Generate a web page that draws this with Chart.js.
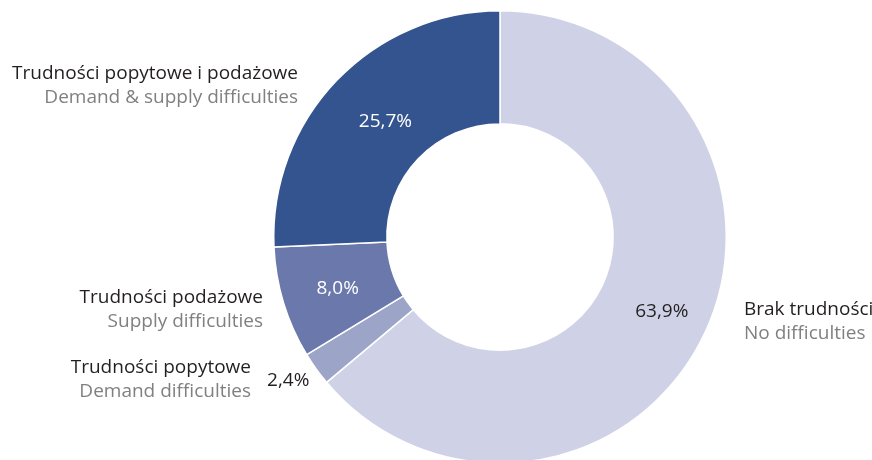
<!DOCTYPE html>
<html>
<head>
<meta charset="utf-8">
<script src="https://cdn.jsdelivr.net/npm/chart.js@4"></script>
<style>
  html, body { margin: 0; padding: 0; background: #fff; overflow: hidden; }
  #wrap { width: 872px; height: 470px; position: relative; }
</style>
</head>
<body>
<div id="wrap"><canvas id="chart"></canvas></div>
<script>
const labelsPl = ["Brak trudności", "Trudności popytowe", "Trudności podażowe", "Trudności popytowe i podażowe"];
const labelsEn = ["No difficulties", "Demand difficulties", "Supply difficulties", "Demand & supply difficulties"];
const values = [63.9, 2.4, 8.0, 25.7];
const colors = ["#cfd2e6", "#9ca5c8", "#6b78ac", "#34548f"];

const FONT = '"Open Sans", sans-serif';

const fmt = v => v.toFixed(1).replace(".", ",") + "%";

const labelPlugin = {
  id: "sliceLabels",
  afterDatasetsDraw(chart) {
    const ctx = chart.ctx;
    const arcs = chart.getDatasetMeta(0).data;
    ctx.save();
    ctx.font = "19px " + FONT;
    ctx.textBaseline = "middle";
    ctx.textAlign = "center";

    // percentage labels
    const pct = [
      { r: 0.76, color: "#231f20", dx: 6, dy: 2 },
      { r: 1.13, color: "#231f20", dx: -4, dy: -5 },
      { r: 0.75, color: "#ffffff", dx: 0, dy: 2 },
      { r: 0.75, color: "#ffffff", dx: 8, dy: 2 }
    ];
    arcs.forEach((arc, i) => {
      const p = arc.getProps(["x", "y", "startAngle", "endAngle", "outerRadius"], true);
      const a = (p.startAngle + p.endAngle) / 2;
      const r = p.outerRadius * pct[i].r;
      ctx.fillStyle = pct[i].color;
      ctx.fillText(fmt(values[i]), p.x + Math.cos(a) * r + pct[i].dx, p.y + Math.sin(a) * r + pct[i].dy);
    });

    // category labels
    const cat = [
      { x: 744, y: 310, align: "left" },
      { x: 251, y: 368, align: "right" },
      { x: 263, y: 298, align: "right" },
      { x: 298, y: 74, align: "right" }
    ];
    cat.forEach((c, i) => {
      ctx.textAlign = c.align;
      ctx.fillStyle = "#231f20";
      ctx.fillText(labelsPl[i], c.x, c.y);
      ctx.fillStyle = "#808080";
      ctx.fillText(labelsEn[i], c.x, c.y + 24);
    });
    ctx.restore();
  }
};

new Chart(document.getElementById("chart"), {
  type: "doughnut",
  data: {
    labels: labelsPl,
    datasets: [
      {
        data: values,
        backgroundColor: colors,
        borderColor: "#ffffff",
        borderWidth: 1.5,
      },
    ],
  },
  options: {
    responsive: true,
    maintainAspectRatio: false,
    animation: false,
    cutout: "50%",
    layout: { padding: { top: 10, bottom: 6, left: 128, right: 0 } },
    plugins: {
      legend: { display: false },
      tooltip: { enabled: false },
    },
  },
  plugins: [labelPlugin],
});
</script>
</body>
</html>
